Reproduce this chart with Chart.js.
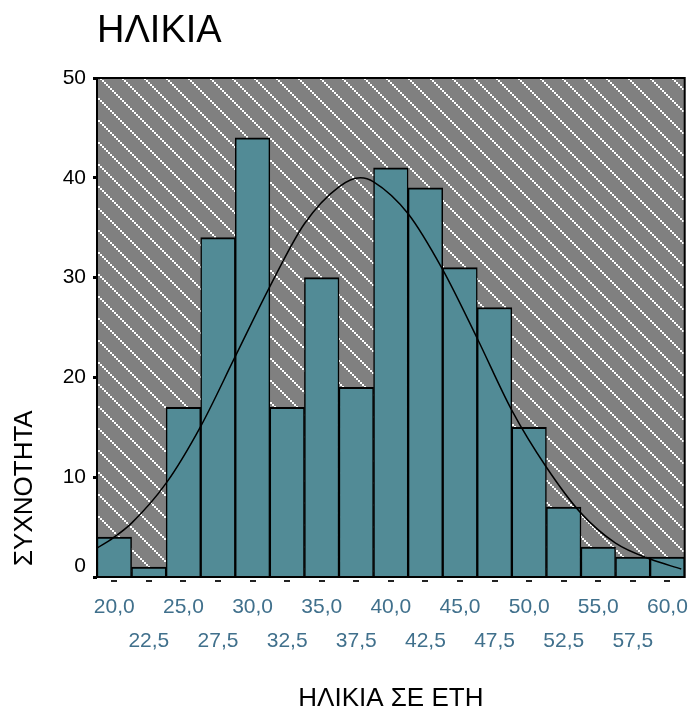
<!DOCTYPE html>
<html>
<head>
<meta charset="utf-8">
<title>ΗΛΙΚΙΑ</title>
<script src="https://cdn.jsdelivr.net/npm/chart.js@4.4.1/dist/chart.umd.min.js"></script>
<style>
  html, body { margin: 0; padding: 0; background: #fff; }
  #wrap { width: 693px; height: 712px; position: relative; }
</style>
</head>
<body>
<div id="wrap"><canvas id="hist"></canvas></div>
<script>
// Histogram data
const binCenters = [20.0, 22.5, 25.0, 27.5, 30.0, 32.5, 35.0, 37.5, 40.0, 42.5, 45.0, 47.5, 50.0, 52.5, 55.0, 57.5, 60.0];
const binCounts = [4, 1, 17, 34, 44, 17, 30, 19, 41, 39, 31, 27, 15, 7, 3, 2, 2];

// Normal curve (age, frequency)
const curveAges = [18.75, 19.9, 21.25, 23.75, 26.25, 28.75, 31.25, 33.75, 36.25, 37.8, 38.75, 41.25, 43.75, 46.25, 48.75, 51.25, 53.75, 56.25, 58.75, 61.0];
const curveFreq = [2.9, 3.9, 5.4, 9.4, 15.1, 22.1, 29.1, 35.4, 39.1, 40.0, 39.6, 36.4, 30.8, 23.9, 16.7, 11.0, 6.4, 3.4, 1.8, 0.8];

const yTicks = [0, 10, 20, 30, 40, 50];

const chartTitle = 'ΗΛΙΚΙΑ';
const xTitle = 'ΗΛΙΚΙΑ ΣΕ ΕΤΗ';
const yTitle = 'ΣΥΧΝΟΤΗΤΑ';

const fontFamily = '"Liberation Sans", Arial, Helvetica, sans-serif';
Chart.defaults.font.family = fontFamily;

// labels in two rows, like SPSS staggers them
function fmt(v) { return v.toFixed(1).replace('.', ','); }
const xLabels = binCenters.map((v, i) => i % 2 === 0 ? [fmt(v)] : ['', fmt(v)]);

// hatched gray backdrop
function makeHatch() {
  const size = 22;
  const c = document.createElement('canvas');
  c.width = size; c.height = size;
  const g = c.getContext('2d');
  g.fillStyle = '#808080';
  g.fillRect(0, 0, size, size);
  g.fillStyle = '#ffffff';
  for (let y = 0; y < size; y++) {
    for (let x = 0; x < size; x++) {
      if (((Math.floor(x / 2) - Math.floor(y / 2)) % 11 + 11) % 11 === 0) g.fillRect(x, y, 1, 1);
    }
  }
  return c;
}

const decor = {
  id: 'decor',
  beforeDatasetsDraw(chart) {
    const {ctx, chartArea: a} = chart;
    ctx.save();
    ctx.fillStyle = ctx.createPattern(makeHatch(), 'repeat');
    ctx.fillRect(a.left, a.top, a.right - a.left, a.bottom - a.top);
    ctx.restore();
  },
  afterDatasetsDraw(chart) {
    const {ctx, chartArea: a} = chart;
    const xs = chart.scales.x;
    ctx.save();
    // frame
    ctx.strokeStyle = '#000';
    ctx.lineWidth = 2;
    ctx.strokeRect(a.left, a.top, a.right - a.left, a.bottom - a.top);
    // small dashes under the axis
    ctx.fillStyle = '#222';
    for (let i = 0; i < binCenters.length; i++) {
      const px = xs.getPixelForTick(i);
      ctx.fillRect(Math.round(px) - 3, a.bottom + 3, 6, 2);
    }
    // chart title
    ctx.fillStyle = '#000';
    ctx.font = '38px ' + fontFamily;
    ctx.textAlign = 'left';
    ctx.textBaseline = 'middle';
    ctx.fillText(chartTitle, a.left, 32);
    // y axis title, bottom aligned
    ctx.font = '26px ' + fontFamily;
    ctx.translate(25, 566);
    ctx.rotate(-Math.PI / 2);
    ctx.fillText(yTitle, 0, 0);
    ctx.restore();
  }
};

new Chart(document.getElementById('hist'), {
  data: {
    labels: xLabels,
    datasets: [
      {
        type: 'line',
        order: 0,
        xAxisID: 'xl',
        data: curveAges.map((v, i) => ({x: v, y: curveFreq[i]})),
        borderColor: '#000',
        borderWidth: 1.5,
        pointRadius: 0,
        cubicInterpolationMode: 'monotone',
        fill: false
      },
      {
        type: 'bar',
        order: 1,
        data: binCounts,
        backgroundColor: '#528b96',
        borderColor: '#000',
        borderWidth: {top: 2, left: 1.5, right: 1.5, bottom: 0},
        borderSkipped: false,
        grouped: false,
        barPercentage: 1,
        categoryPercentage: 1
      }
    ]
  },
  options: {
    responsive: true,
    maintainAspectRatio: false,
    animation: false,
    layout: { padding: {top: 78, right: 5, bottom: 0, left: 0} },
    plugins: { legend: {display: false}, tooltip: {enabled: false} },
    scales: {
      x: {
        type: 'category',
        offset: true,
        grid: { display: false },
        border: { display: false },
        ticks: {
          autoSkip: false,
          maxRotation: 0,
          minRotation: 0,
          padding: 5,
          color: '#40708c',
          font: { size: 21, lineHeight: 1.62 }
        },
        title: {
          display: true,
          text: xTitle,
          color: '#000',
          font: { size: 26, lineHeight: 1 },
          padding: {top: 0, bottom: 0}
        },
        afterFit(s) { s.height = 135; }
      },
      xl: {
        type: 'linear',
        display: false,
        min: 18.75,
        max: 61.25
      },
      y: {
        min: 0,
        max: 50,
        afterBuildTicks(s) { s.ticks = yTicks.map(v => ({value: v})); },
        grid: {
          drawOnChartArea: false,
          drawTicks: true,
          tickLength: 4,
          tickWidth: 3,
          tickColor: '#000'
        },
        border: { display: false },
        ticks: {
          padding: 7,
          color: '#000',
          font: { size: 21, lineHeight: 1 },
          callback: v => v === 0 ? ['0', ''] : String(v)
        },
        afterFit(s) { s.width = 97; }
      }
    }
  },
  plugins: [decor]
});
</script>
</body>
</html>
